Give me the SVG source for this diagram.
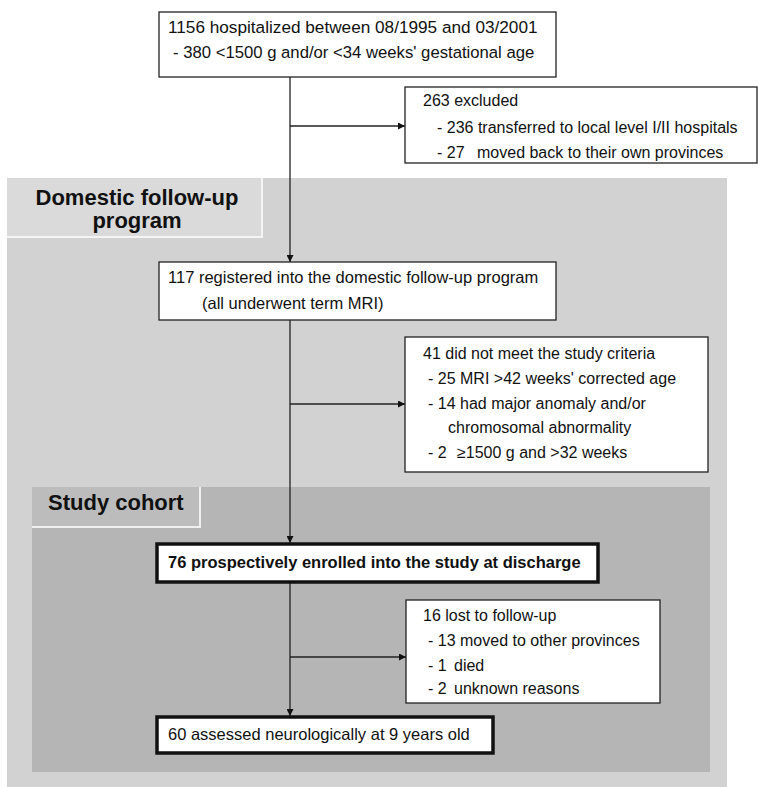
<svg xmlns="http://www.w3.org/2000/svg" width="758" height="787" viewBox="0 0 758 787">
<style>
.t{font-family:"Liberation Sans",Arial,sans-serif;font-size:16px;fill:#111}
.l{font-size:16.5px}
.xl{font-size:17.2px}
.b{font-weight:bold}
.h{font-family:"Liberation Sans",Arial,sans-serif;font-size:22px;font-weight:bold;fill:#111}
.box{fill:#fff;stroke:#222;stroke-width:1.3}
.thick{fill:#fff;stroke:#111;stroke-width:3.5}
.ln{stroke:#222;stroke-width:1.3;fill:none}
</style>
<defs>
<marker id="ah" viewBox="0 0 10 10" refX="10" refY="5" markerWidth="7" markerHeight="7" markerUnits="userSpaceOnUse" orient="auto">
<path d="M0,0 L10,5 L0,10 z" fill="#111"/>
</marker>
</defs>
<rect width="758" height="787" fill="#fff"/>
<g id="panel-domestic">
<rect x="7" y="178" width="720" height="612" fill="#d2d2d2"/>
<path d="M7,237 L262,237 L262,178" fill="none" stroke="#f4f4f4" stroke-width="2"/>
<rect x="7" y="178" width="254" height="58" fill="#dadada"/>
<text class="h" x="137" y="205" text-anchor="middle">Domestic follow-up</text>
<text class="h" x="137" y="228" text-anchor="middle">program</text>
</g>
<g id="panel-study">
<rect x="32" y="487" width="678" height="285" fill="#b5b5b5"/>
<path d="M32,527 L200,527 L200,487" fill="none" stroke="#f0f0f0" stroke-width="2"/>
<rect x="32" y="487" width="167" height="39" fill="#bcbcbc"/>
<text class="h" x="48" y="510">Study cohort</text>
</g>
<g id="connectors">
<line class="ln" x1="290" y1="77" x2="290" y2="262" marker-end="url(#ah)"/>
<line class="ln" x1="290" y1="126" x2="405" y2="126" marker-end="url(#ah)"/>
<line class="ln" x1="290" y1="320" x2="290" y2="543" marker-end="url(#ah)"/>
<line class="ln" x1="290" y1="404" x2="405" y2="404" marker-end="url(#ah)"/>
<line class="ln" x1="290" y1="582" x2="290" y2="716" marker-end="url(#ah)"/>
<line class="ln" x1="290" y1="657" x2="406" y2="657" marker-end="url(#ah)"/>
</g>
<g id="n1156">
<rect class="box" x="159" y="12" width="397" height="65"/>
<text class="t xl" x="168" y="33">1156 hospitalized between 08/1995 and 03/2001</text>
<text class="t" style="font-size:16.7px" x="173" y="58">- 380 &lt;1500 g and/or &lt;34 weeks' gestational age</text>
</g>
<g id="n263">
<rect class="box" x="405" y="87" width="352" height="76"/>
<text class="t" x="423" y="106">263 excluded</text>
<text class="t" x="437" y="133">- 236 transferred to local level I/II hospitals</text>
<text class="t" y="158"><tspan x="437">- 27</tspan><tspan x="477">moved back to their own provinces</tspan></text>
</g>
<g id="n117">
<rect class="box" x="159" y="262" width="397" height="58"/>
<text class="t l" x="168" y="283">117 registered into the domestic follow-up program</text>
<text class="t l" x="202" y="309">(all underwent term MRI)</text>
</g>
<g id="n41">
<rect class="box" x="405" y="337" width="303" height="135"/>
<text class="t" x="423" y="359">41 did not meet the study criteria</text>
<text class="t" x="428" y="384">- 25 MRI &gt;42 weeks' corrected age</text>
<text class="t" x="428" y="409">- 14 had major anomaly and/or</text>
<text class="t" x="448" y="433">chromosomal abnormality</text>
<text class="t" y="458"><tspan x="428">- 2</tspan><tspan x="457">≥1500 g and &gt;32 weeks</tspan></text>
</g>
<g id="n76">
<rect class="thick" x="157" y="544" width="441" height="38"/>
<text class="t l b" x="168" y="568">76 prospectively enrolled into the study at discharge</text>
</g>
<g id="n16">
<rect class="box" x="406" y="600" width="254" height="103"/>
<text class="t" x="423" y="621">16 lost to follow-up</text>
<text class="t" x="428" y="646">- 13 moved to other provinces</text>
<text class="t" y="671"><tspan x="428">- 1</tspan><tspan x="454">died</tspan></text>
<text class="t" y="694"><tspan x="428">- 2</tspan><tspan x="454">unknown reasons</tspan></text>
</g>
<g id="n60">
<rect class="thick" x="157" y="717" width="336" height="36"/>
<text class="t l" x="168" y="740">60 assessed neurologically at 9 years old</text>
</g>
</svg>
